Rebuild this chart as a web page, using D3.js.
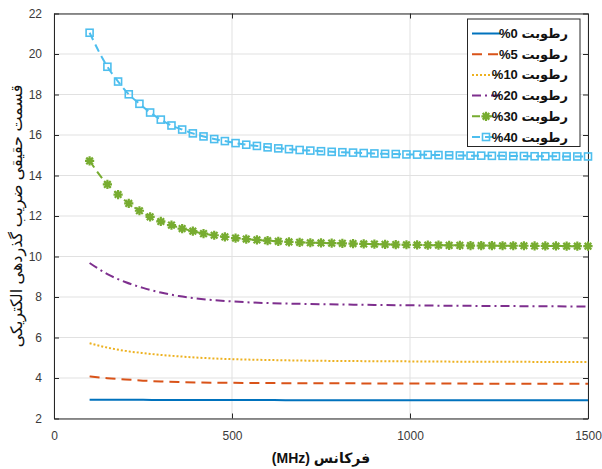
<!DOCTYPE html>
<html>
<head>
<meta charset="utf-8">
<script src="https://cdn.jsdelivr.net/npm/d3@7"></script>
<style>
  html, body { margin: 0; padding: 0; background: #fff; }
  svg { display: block; }
  text { font-family: "Liberation Sans", Arial, "DejaVu Sans", sans-serif; }
</style>
</head>
<body>
<svg id="chart" width="602" height="469"></svg>
<script>
// Frequencies (MHz) of the marked samples
const freqMarked = [100,150,180,210,240,270,300,330,360,390,420,450,480,510,540,570,600,630,660,690,720,750,780,810,840,870,900,930,960,990,1020,1050,1080,1110,1140,1170,1200,1230,1260,1290,1320,1350,1380,1410,1440,1470,1500];
// Frequencies (MHz) of the samples for the plain curves
const freqPlain = [100,150,200,250,300,350,400,500,600,700,800,900,1000,1100,1200,1300,1400,1500];

// Real part of the dielectric constant for each moisture level
const eps0 = [2.93,2.93,2.92,2.92,2.91,2.91,2.91,2.91,2.91,2.90,2.90,2.90,2.90,2.90,2.90,2.90,2.90,2.90];
const eps5 = [4.08,3.99,3.93,3.87,3.83,3.80,3.78,3.76,3.75,3.74,3.74,3.73,3.73,3.73,3.72,3.72,3.72,3.72];
const eps10 = [5.72,5.50,5.34,5.23,5.14,5.07,5.01,4.93,4.89,4.86,4.84,4.83,4.82,4.81,4.80,4.80,4.79,4.79];
const eps20 = [9.68,9.13,8.74,8.45,8.22,8.05,7.93,7.78,7.70,7.66,7.63,7.61,7.59,7.57,7.56,7.55,7.54,7.53];
const eps30 = [14.72,13.56,13.06,12.62,12.26,11.96,11.73,11.55,11.38,11.25,11.13,11.05,10.97,10.91,10.86,10.82,10.78,10.75,10.72,10.70,10.68,10.67,10.66,10.65,10.64,10.62,10.61,10.60,10.59,10.58,10.57,10.56,10.56,10.55,10.55,10.54,10.54,10.54,10.53,10.53,10.53,10.52,10.52,10.52,10.51,10.51,10.51];
const eps40 = [21.05,19.37,18.64,18.01,17.54,17.11,16.76,16.47,16.27,16.08,15.93,15.80,15.70,15.60,15.52,15.46,15.39,15.34,15.30,15.26,15.23,15.20,15.17,15.15,15.13,15.11,15.09,15.07,15.06,15.04,15.03,15.02,15.01,15.00,14.99,14.98,14.98,14.97,14.97,14.96,14.96,14.95,14.95,14.95,14.94,14.94,14.94];

const legendLabels = ["%0 رطوبت","%5 رطوبت","%10 رطوبت","%20 رطوبت","%30 رطوبت","%40 رطوبت"];
const xTicks = [0,500,1000,1500];
const yTicks = [2,4,6,8,10,12,14,16,18,20,22];
const xTitle = "(MHz) فرکانس";
const yTitle = "قسمت حقیقی ضریب گذردهی الکتریکی";

const series = [
  {x: freqPlain,  y: eps0,  color: "#0072BD", dash: null,       marker: null},
  {x: freqPlain,  y: eps5,  color: "#D95319", dash: "10,6",     marker: null},
  {x: freqPlain,  y: eps10, color: "#EDB120", dash: "2,2",      marker: null},
  {x: freqPlain,  y: eps20, color: "#7E2F8E", dash: "9,4,2,4",  marker: null},
  {x: freqMarked, y: eps30, color: "#77AC30", dash: "8,5",      marker: "star"},
  {x: freqMarked, y: eps40, color: "#4DBEEE", dash: "8,5",      marker: "square"}
];

const svg = d3.select("#chart");
const L = 54, R = 588, T = 13.5, B = 418.5;

const x = d3.scaleLinear().domain([0, 1500]).range([L, R]);
const y = d3.scaleLinear().domain([2, 22]).range([B, T]);

// grid
const grid = svg.append("g").attr("stroke", "#e1e1e1").attr("stroke-width", 1);
xTicks.forEach(t => grid.append("line").attr("x1", x(t)).attr("x2", x(t)).attr("y1", T).attr("y2", B));
yTicks.forEach(t => grid.append("line").attr("x1", L).attr("x2", R).attr("y1", y(t)).attr("y2", y(t)));

// axes with inward ticks
const axisColor = "#262626";
const fmt = d3.format("d");
const gx = svg.append("g").attr("transform", `translate(0,${B})`)
  .call(d3.axisBottom(x).tickValues(xTicks).tickFormat(fmt).tickSizeInner(-5).tickSizeOuter(0).tickPadding(13));
const gy = svg.append("g").attr("transform", `translate(${L},0)`)
  .call(d3.axisLeft(y).tickValues(yTicks).tickFormat(fmt).tickSizeInner(-5).tickSizeOuter(0).tickPadding(12));
const gx2 = svg.append("g").attr("transform", `translate(0,${T})`)
  .call(d3.axisTop(x).tickValues(xTicks).tickSizeInner(-5).tickSizeOuter(0).tickFormat(""));
const gy2 = svg.append("g").attr("transform", `translate(${R},0)`)
  .call(d3.axisRight(y).tickValues(yTicks).tickSizeInner(-5).tickSizeOuter(0).tickFormat(""));
[gx, gy, gx2, gy2].forEach(g => {
  g.select(".domain").attr("stroke", axisColor);
  g.selectAll(".tick line").attr("stroke", axisColor);
  g.selectAll(".tick text").attr("fill", "#3a3a3a").style("font-size", "12px")
    .style("font-family", "'Liberation Sans', Arial, sans-serif");
});

// curves
const line = d3.line().curve(d3.curveMonotoneX);
const starPath = (r) => {
  const d = r * 0.72;
  return `M${-r},0L${r},0M0,${-r}L0,${r}M${-d},${-d}L${d},${d}M${-d},${d}L${d},${-d}`;
};
function drawMarker(g, m, color, cx, cy) {
  if (m === "square") {
    g.append("rect").attr("x", cx - 3.5).attr("y", cy - 3.5).attr("width", 7).attr("height", 7)
      .attr("fill", "none").attr("stroke", color).attr("stroke-width", 1.6);
  } else if (m === "star") {
    g.append("path").attr("d", starPath(4.6)).attr("transform", `translate(${cx},${cy})`)
      .attr("fill", "none").attr("stroke", color).attr("stroke-width", 2.2);
  }
}

series.forEach(s => {
  const pts = s.x.map((f, i) => [x(f), y(s.y[i])]);
  svg.append("path").attr("d", line(pts)).attr("fill", "none")
    .attr("stroke", s.color).attr("stroke-width", 2)
    .attr("stroke-dasharray", s.dash);
  if (s.marker) {
    const g = svg.append("g");
    pts.forEach(p => drawMarker(g, s.marker, s.color, p[0], p[1]));
  }
});

// axis titles
svg.append("text").attr("x", (L + R) / 2).attr("y", 463).attr("text-anchor", "middle")
  .attr("font-weight", "bold").style("font-size", "14px").attr("fill", "#111").text(xTitle);
svg.append("text").attr("transform", `translate(22,${(T + B) / 2}) rotate(-90)`)
  .attr("text-anchor", "middle").attr("direction", "rtl").style("font-size", "16px").attr("fill", "#111")
  .text(yTitle);

// legend
const lg = svg.append("g");
lg.append("rect").attr("x", 467.5).attr("y", 19).attr("width", 112.5).attr("height", 127.5)
  .attr("fill", "#fff").attr("stroke", axisColor).attr("stroke-width", 1);
series.forEach((s, i) => {
  const cy = 33.5 + i * 20.7;
  lg.append("line").attr("x1", 472).attr("x2", 500).attr("y1", cy).attr("y2", cy)
    .attr("stroke", s.color).attr("stroke-width", 2).attr("stroke-dasharray", s.dash);
  if (s.marker) drawMarker(lg, s.marker, s.color, 486, cy);
  lg.append("text").attr("x", 568).attr("y", cy + 4.5).attr("text-anchor", "end")
    .attr("font-weight", "bold").style("font-size", "13px").attr("fill", "#111")
    .text(legendLabels[i]);
});
</script>
</body>
</html>
